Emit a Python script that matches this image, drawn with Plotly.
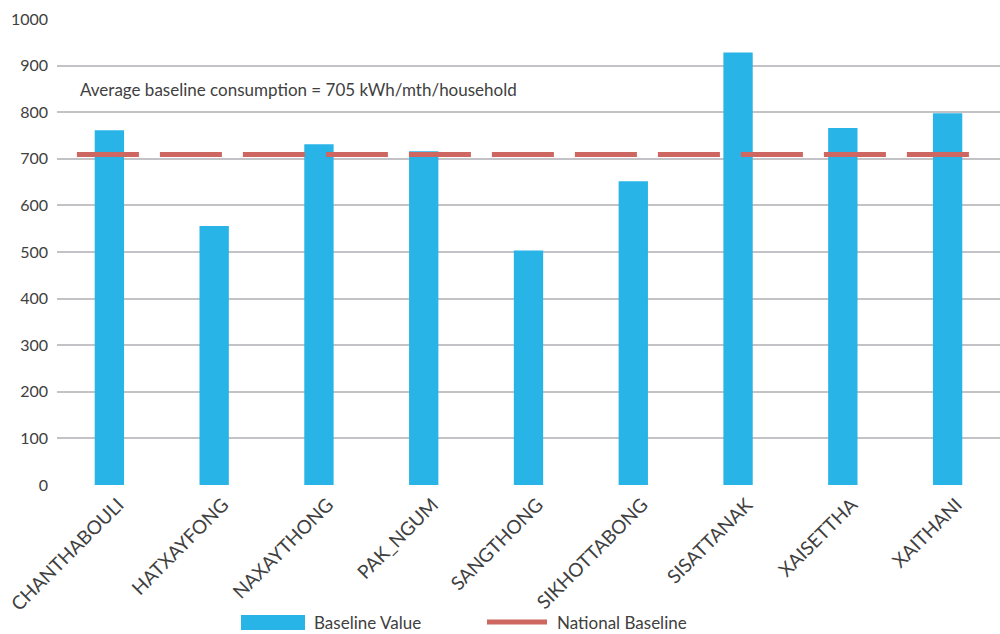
import plotly.graph_objects as go

categories = ["CHANTHABOULI", "HATXAYFONG", "NAXAYTHONG", "PAK_NGUM", "SANGTHONG",
              "SIKHOTTABONG", "SISATTANAK", "XAISETTHA", "XAITHANI"]
baseline_values = [761, 556, 731, 716, 503, 652, 928, 766, 798]
national_baseline = 709
y_ticks = [0, 100, 200, 300, 400, 500, 600, 700, 800, 900, 1000]
annotation_text = "Average baseline consumption = 705 kWh/mth/household"

BLUE = "#29B4E7"
RED = "#CE6662"
TEXT = "#404040"
FONT = "Lato"

fig = go.Figure()
fig.add_trace(go.Bar(
    x=categories, y=baseline_values, marker=dict(color=BLUE, line=dict(width=0)),
    name="Baseline Value", showlegend=False,
))
fig.add_trace(go.Scatter(
    x=[-0.31, len(categories) - 1 + 0.27], y=[national_baseline, national_baseline],
    xaxis="x2", mode="lines", name="National Baseline", showlegend=False,
    line=dict(color=RED, width=5, dash="62px,21px"),
))

fig.update_layout(
    width=1000, height=634,
    margin=dict(l=57, r=0, t=19, b=149),
    paper_bgcolor="white", plot_bgcolor="white",
    font=dict(family=FONT, size=17, color=TEXT),
    bargap=0.72,
    xaxis=dict(tickangle=-45, showgrid=False, showline=False, ticks="",
               tickfont=dict(size=19, color=TEXT), range=[-0.5, len(categories) - 0.5],
               ticklabelshift=9, ticklabelstandoff=4),
    xaxis2=dict(overlaying="x", range=[-0.5, len(categories) - 0.5], visible=False),
    yaxis=dict(range=[0, 1000], tickvals=y_ticks, showgrid=True, gridcolor="#C3C3C7",
               gridwidth=2, zeroline=False, showline=False, ticks="",
               tickfont=dict(size=16, color=TEXT), ticklabelstandoff=8),
    showlegend=False,
)

fig.add_annotation(text=annotation_text, xref="paper", yref="y", x=(78 - 57) / 943, y=849,
                   xanchor="left", yanchor="middle", showarrow=False,
                   font=dict(size=17, color=TEXT))

# custom legend
ly = (485 - 622) / 466
fig.add_shape(type="rect", xref="paper", yref="paper",
              x0=(241 - 57) / 943, x1=(305 - 57) / 943,
              y0=(485 - 630) / 466, y1=(485 - 615) / 466,
              fillcolor=BLUE, line=dict(width=0))
fig.add_annotation(text="Baseline Value", xref="paper", yref="paper", x=(312 - 57) / 943, y=ly,
                   xanchor="left", yanchor="middle", showarrow=False, font=dict(size=17, color=TEXT))
fig.add_shape(type="line", xref="paper", yref="paper",
              x0=(487 - 57) / 943, x1=(547 - 57) / 943, y0=ly, y1=ly,
              line=dict(color=RED, width=5))
fig.add_annotation(text="National Baseline", xref="paper", yref="paper", x=(555 - 57) / 943, y=ly,
                   xanchor="left", yanchor="middle", showarrow=False, font=dict(size=17, color=TEXT))

fig.write_html("out.html")
